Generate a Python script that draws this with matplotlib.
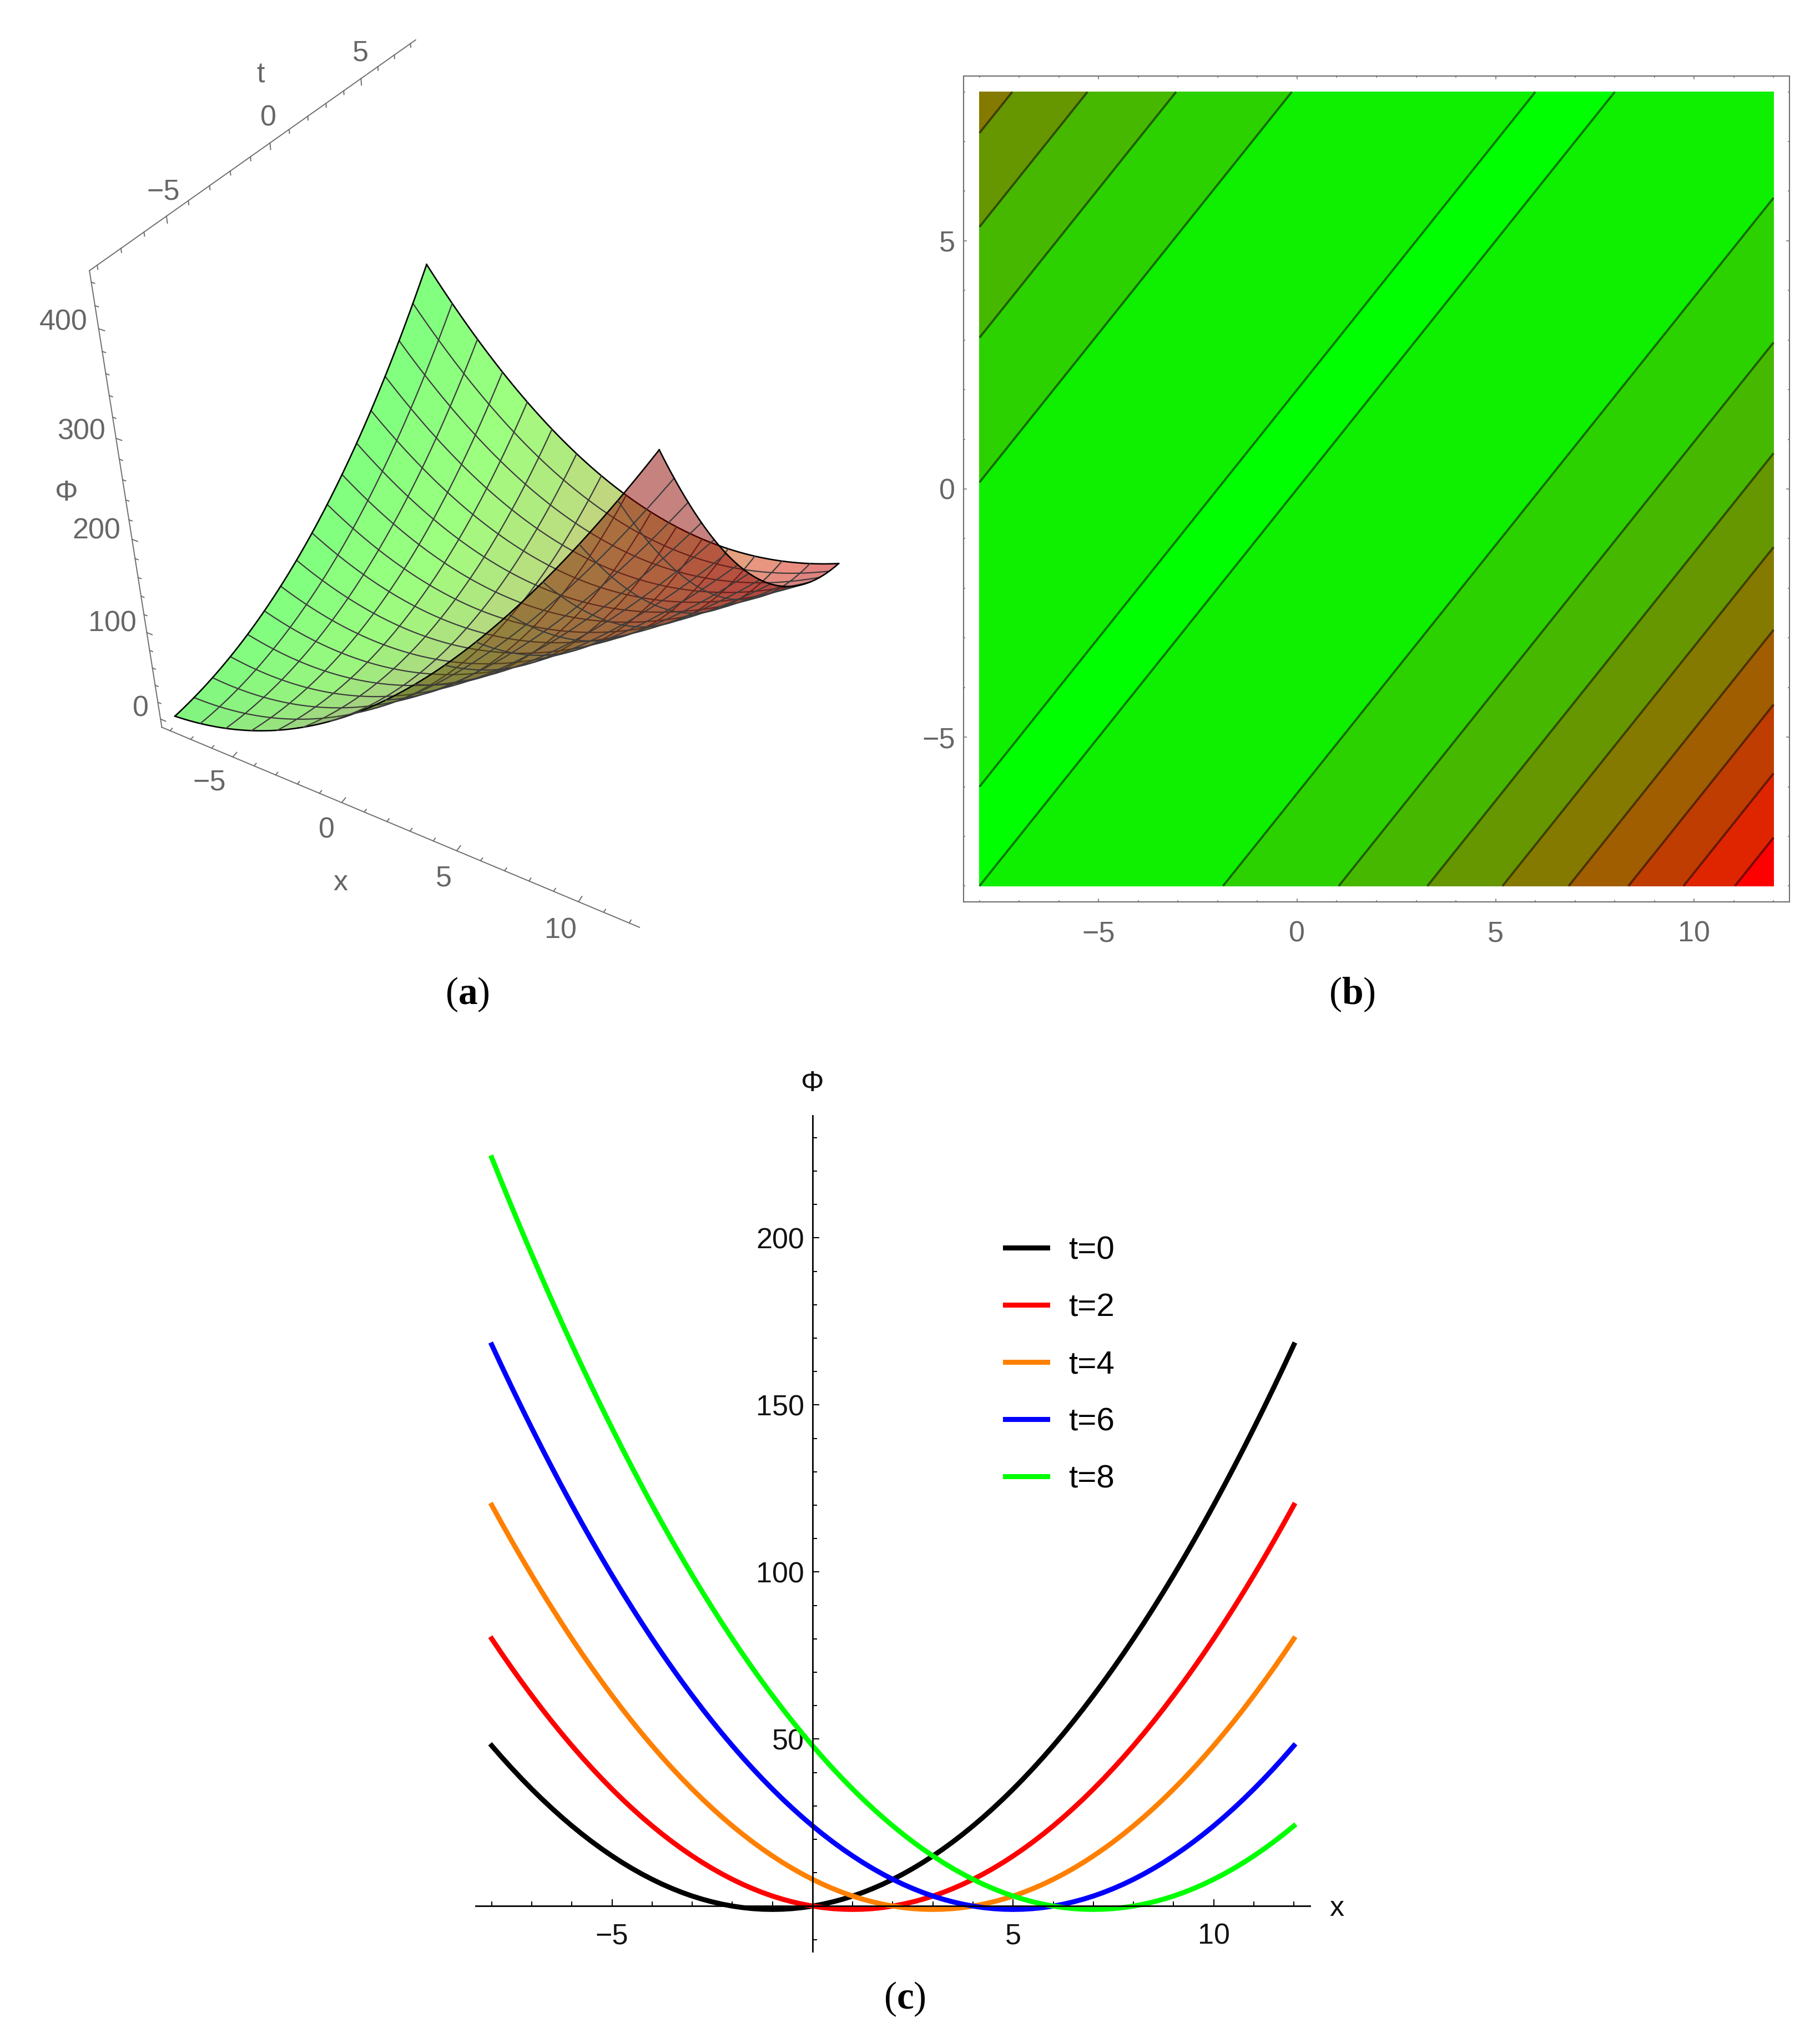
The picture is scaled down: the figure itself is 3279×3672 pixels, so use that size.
import numpy as np
import matplotlib
matplotlib.use("Agg")
import matplotlib.pyplot as plt
from matplotlib.ticker import MultipleLocator
from mpl_toolkits.mplot3d import art3d

plt.rcParams['font.family'] = ['Liberation Sans', 'DejaVu Sans']
plt.rcParams['mathtext.fontset'] = 'custom'
plt.rcParams['mathtext.rm'] = 'Liberation Serif'
plt.rcParams['mathtext.bf'] = 'Liberation Serif:bold'

W, H = 3280, 3672
GRAY = '#6e6e6e'

phi_profile = [
    224, 216.56, 209.25, 202.06, 195, 188.06, 181.25, 174.56, 168, 161.56, 155.25, 149.06,
    143, 137.06, 131.25, 125.56, 120, 114.56, 109.25, 104.06, 99, 94.06, 89.25, 84.56,
    80, 75.56, 71.25, 67.06, 63, 59.06, 55.25, 51.56, 48, 44.56, 41.25, 38.06,
    35, 32.06, 29.25, 26.56, 24, 21.56, 19.25, 17.06, 15, 13.06, 11.25, 9.56,
    8, 6.56, 5.25, 4.06, 3, 2.06, 1.25, .56, 0, -.44, -.75, -.94,
    -1, -.94, -.75, -.44, 0, .56, 1.25, 2.06, 3, 4.06, 5.25, 6.56,
    8, 9.56, 11.25, 13.06, 15, 17.06, 19.25, 21.56, 24, 26.56, 29.25, 32.06,
    35, 38.06, 41.25, 44.56, 48, 51.56, 55.25, 59.06, 63, 67.06, 71.25, 75.56,
    80, 84.56, 89.25, 94.06, 99, 104.06, 109.25, 114.56, 120, 125.56, 131.25, 137.06,
    143, 149.06, 155.25, 161.56, 168, 174.56, 181.25, 188.06, 195, 202.06, 209.25, 216.56,
    224, 231.56, 239.25, 247.06, 255, 263.06, 271.25, 279.56, 288, 296.56, 305.25, 314.06,
    323, 332.06, 341.25, 350.56, 360, 369.56, 379.25, 389.06, 399, 409.06, 419.25, 429.56,
    440,
]
phi_profile = np.array(phi_profile)


def phi_at(x, t):
    return phi_profile[np.rint((np.asarray(x) - np.asarray(t) + 16) * 4).astype(int)]


# panel (c)
x_fine = np.arange(-8, 12.25, 0.25)
t_fine = np.arange(-8, 8.25, 0.25)
curve_times = [0, 2, 4, 6, 8]
curve_labels = ['t=0', 't=2', 't=4', 't=6', 't=8']
curve_colors = ['#000000', '#ff0000', '#ff8000', '#0000ff', '#00ff00']

# panel (b)
contour_levels = [-1, 0, 50, 100, 150, 200, 250, 300, 350, 400, 441]
band_colors = ['#00ff00', '#0ef000', '#2cd200', '#47b800', '#669600', '#857a00',
               '#a05e00', '#bf3d00', '#de2500', '#ff0000']

fig = plt.figure(figsize=(W / 100, H / 100), dpi=100)


def rect(l, t, r, b):
    return [l / W, 1 - b / H, (r - l) / W, (b - t) / H]


def label(px, py, s, **kw):
    kw.setdefault('color', '#666666')
    kw.setdefault('fontsize', 37.5)
    fig.text(px / W, 1 - py / H, s, ha='center', va='center', **kw)


# panel (a), camera fitted to the box corners and ticks of the reference
x_box = [-8.4, 12.4]
t_box = [-8.32, 8.32]
z_box = [-9.84, 449.8]
S = 1640
ox, oy = 93.46, 14.81
ax = fig.add_axes(rect(ox, oy, S + ox, S + oy), projection='3d', computed_zorder=False)
ax.set_axis_off()
ax.set_xlim(*x_box)
ax.set_ylim(*t_box)
ax.set_zlim(*z_box)
ax.view_init(36.2555, -61.5661, 0.0495)
ax.set_proj_type('persp', focal_length=0.3795)
ax.set_box_aspect((1, 0.9981, 1.0012), zoom=1.0139)

x_mesh = np.linspace(-8, 12, 17)
t_mesh = np.linspace(-8, 8, 17)
silhouette = 6  # x-t where the sheet folds over in this view


def add_faces(keep, zo):
    verts, cols = [], []
    for i in range(16):
        for j in range(16):
            x0, x1 = x_mesh[j], x_mesh[j + 1]
            t0, t1 = t_mesh[i], t_mesh[i + 1]
            dc = (x0 + x1 - t0 - t1) / 2
            if not keep(dc):
                continue
            xs = np.array([x0, x1, x1, x0])
            ts = np.array([t0, t0, t1, t1])
            verts.append(np.column_stack([xs, ts, phi_at(xs, ts)]))
            f = ((x0 + x1) / 2 + 8) / 20
            if dc > silhouette:
                sh = 0.55
            else:
                sh = 1 - 0.3 * np.clip((dc + 6) / 12, 0, 1) ** 2
            cols.append((min(f * 1.1, 1) * sh, min((1 - f) * 1.3, 1) * sh, 0, 0.5))
    coll = art3d.Poly3DCollection(verts, facecolors=cols, edgecolors='none', linewidths=0, zorder=zo)
    coll.set_clip_on(False)
    ax.add_collection3d(coll, autolim=False)


def add_lines(keep, zo):
    # mesh lines and the outline of the sheet, cut where x-t leaves this layer
    lines = [(x_fine, np.full_like(x_fine, v)) for v in t_mesh] + [(np.full_like(t_fine, v), t_fine) for v in x_mesh]
    for lx, lt in lines:
        z = phi_at(lx, lt).astype(float)
        z[~keep(lx - lt)] = np.nan
        border = lx[0] == lx[-1] and lx[0] in (x_mesh[0], x_mesh[-1]) or lt[0] == lt[-1] and lt[0] in (t_mesh[0], t_mesh[-1])
        ax.plot(lx, lt, z, color='black' if border else '#3c3c3c', lw=1.9 if border else 1.6, zorder=zo, clip_on=False)


add_faces(lambda d: d <= silhouette, 1)
add_lines(lambda d: d <= silhouette, 2)
add_faces(lambda d: d > silhouette, 3)
add_lines(lambda d: d >= silhouette, 4)

box_style = dict(color=GRAY, lw=1.4, zorder=0, clip_on=False)
ax.plot(x_box, [t_box[0]] * 2, [z_box[0]] * 2, **box_style)
ax.plot([x_box[0]] * 2, [t_box[0]] * 2, z_box, **box_style)
ax.plot([x_box[0]] * 2, t_box, [z_box[1]] * 2, **box_style)
for v in range(-8, 13):
    ln = 0.22 if v % 5 == 0 else 0.12
    ax.plot([v, v], [t_box[0], t_box[0] + ln], [z_box[0]] * 2, **box_style)
for v in range(-8, 9):
    ln = 6 if v % 5 == 0 else 3.5
    ax.plot([x_box[0]] * 2, [v, v], [z_box[1], z_box[1] - ln], **box_style)
for v in range(0, 441, 20):
    ln = 0.25 if v % 100 == 0 else 0.14
    ax.plot([x_box[0], x_box[0] + ln], [t_box[0]] * 2, [v, v], **box_style)

for px, py, s in [(294, 346, '\u22125'), (483, 213, '0'), (649, 96, '5'), (470, 135, 't'),
                  (377, 1410, '\u22125'), (588, 1496, '0'), (799, 1583, '5'), (1010, 1677, '10'), (613, 1590, 'x'),
                  (114, 581, '400'), (146, 778, '300'), (174, 957, '200'), (202, 1124, '100'), (253, 1277, '0'),
                  (120, 888, '\u03a6')]:
    label(px, py, s)

# panel (b)
x_b = np.arange(-8, 13)
t_b = np.arange(-8, 9)
Xb, Tb = np.meshgrid(x_b, t_b)
Zb = phi_at(Xb, Tb)
axb = fig.add_axes(rect(1736, 137, 3224, 1625))
axb.contourf(Xb, Tb, Zb, levels=contour_levels, colors=band_colors)
axb.contour(Xb, Tb, Zb, levels=contour_levels[1:-1], colors='black', alpha=0.5, linewidths=2.8)
axb.set_xlim(-8.4, 12.4)
axb.set_ylim(-8.32, 8.32)
axb.xaxis.set_major_locator(MultipleLocator(5))
axb.xaxis.set_minor_locator(MultipleLocator(1))
axb.yaxis.set_major_locator(MultipleLocator(5))
axb.yaxis.set_minor_locator(MultipleLocator(1))
axb.tick_params(which='major', direction='in', top=True, right=True, length=4, width=1.1, color=GRAY,
                labelsize=37.5, labelcolor='#666666')
axb.tick_params(axis='x', which='major', pad=24)
axb.tick_params(axis='y', which='major', pad=11)
axb.tick_params(which='minor', direction='in', top=True, right=True, length=2.2, width=1.1, color=GRAY)
for s in axb.spines.values():
    s.set_color(GRAY)
    s.set_linewidth(1.5)

# panel (c)
axc = fig.add_axes(rect(857, 2010, 2360, 3516))
axc.patch.set_alpha(0)
for tv, lab, col in zip(curve_times, curve_labels, curve_colors):
    axc.plot(x_fine, phi_at(x_fine, tv), color=col, lw=6.5, label=lab, solid_joinstyle='round')
axc.set_xlim(-8.4, 12.4)
axc.set_ylim(-13.57, 236.6)
axc.spines['left'].set_position(('data', 0))
axc.spines['bottom'].set_position(('data', 0))
axc.spines['top'].set_visible(False)
axc.spines['right'].set_visible(False)
for s in ['left', 'bottom']:
    axc.spines[s].set_linewidth(2)
axc.set_xticks([-5, 5, 10])
axc.set_yticks([50, 100, 150, 200])
axc.xaxis.set_minor_locator(MultipleLocator(1))
axc.yaxis.set_minor_locator(MultipleLocator(10))
axc.tick_params(which='major', direction='in', length=8.4, width=1.45, labelsize=37.5, labelcolor='#111111')
axc.tick_params(axis='x', which='major', pad=22)
axc.tick_params(axis='y', which='major', pad=11)
axc.tick_params(which='minor', direction='in', length=5.5, width=1.45)
axc.legend(loc='upper left', bbox_to_anchor=(0.635, 0.856), frameon=False, fontsize=42, borderpad=0,
           borderaxespad=0, handlelength=1.3, handletextpad=0.656, labelspacing=0.84)
label(2408, 3439, 'x', color='#111111')
label(1464, 1953, '\u03a6', color='#111111')

# captions
for px, py, s in [(842, 1792, r'$(\mathbf{a})$'), (2436, 1792, r'$(\mathbf{b})$'), (1630, 3602, r'$(\mathbf{c})$')]:
    label(px, py, s, color='black', fontsize=50)

fig.savefig('out.png', dpi=100)
